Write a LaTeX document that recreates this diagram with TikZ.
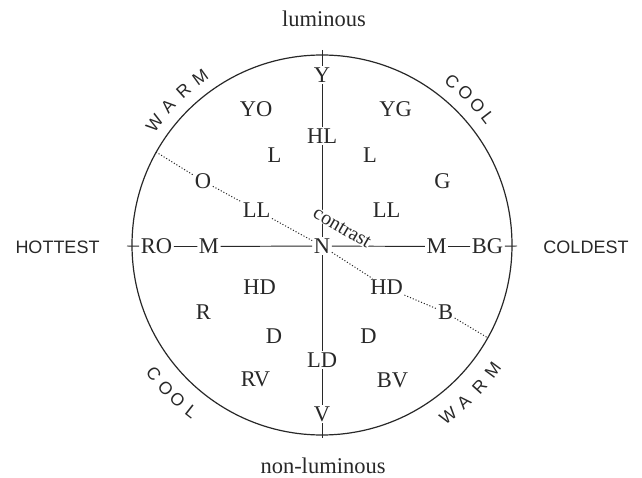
\documentclass[tikz,border=0pt]{standalone}
\usepackage{fontspec}
\setmainfont{Liberation Serif}
\setsansfont{Liberation Sans}
\definecolor{ink}{RGB}{40,40,40}
\begin{document}
\begin{tikzpicture}[x=1pt,y=-1pt,
  lab/.style={font=\fontsize{22.5}{24}\selectfont, inner sep=1.5pt, text=ink},
  axisline/.style={draw=ink, line width=0.95pt},
  dotline/.style={draw=ink, line width=1pt, dash pattern=on 1.1pt off 1.9pt},
  arcl/.style={font=\sffamily\fontsize{17.5}{19}\selectfont, inner sep=0pt, text=ink},
  sidelab/.style={font=\sffamily\fontsize{18}{20}\selectfont, inner sep=0pt, text=ink}]
\useasboundingbox (0,0) rectangle (642,478);
\coordinate (C) at (322,245);
\draw[ink, line width=1.2pt] (C) circle[radius=190pt];

% end points of the axes and contrast line
\coordinate (Lend) at (127,246);
\coordinate (Rend) at (517,246);
\coordinate (Tend) at (322,50);
\coordinate (Bend) at (322,438);
\coordinate (Dl) at (156,152);
\coordinate (Dr) at (488,338);

% labels
\node[lab] (Y)   at (322,75)  {Y};
\node[lab] (HL)  at (322,136) {HL};
\node[lab] (N)   at (322,246) {N};
\node[lab] (LD)  at (322,360) {LD};
\node[lab] (V)   at (322,414) {V};
\node[lab] (YO)  at (256,109.5) {YO};
\node[lab] (YG)  at (395.5,109.5) {YG};
\node[lab] (Ll)  at (274.5,155.5) {L};
\node[lab] (Lr)  at (370,155.5) {L};
\node[lab] (O)   at (203,181) {O};
\node[lab] (G)   at (442.5,181.5) {G};
\node[lab] (LLl) at (256.5,210) {LL};
\node[lab] (LLr) at (386.5,210.5) {LL};
\node[lab] (RO)  at (156.5,246.5) {RO};
\node[lab] (Ml)  at (209,246.5) {M};
\node[lab] (Mr)  at (436.5,246.5) {M};
\node[lab] (BG)  at (487.5,246.5) {BG};
\node[lab] (HDl) at (259.5,287.5) {HD};
\node[lab] (HDr) at (386.5,287.5) {HD};
\node[lab] (R)   at (203.5,312.5) {R};
\node[lab] (B)   at (445.5,312.5) {B};
\node[lab] (Dlft) at (274,336.5) {D};
\node[lab] (Drt) at (368.5,336.5) {D};
\node[lab] (RV)  at (255.5,379) {RV};
\node[lab] (BV)  at (392.5,380) {BV};

\node[lab, anchor=base] (lum) at (324,27) {luminous};
\node[lab, anchor=base] (nonlum) at (323,473) {non-luminous};
\node[sidelab] (hot) at (57.5,247) {HOTTEST};
\node[sidelab] (cold) at (586,247) {COLDEST};

% axes
\draw[axisline] (Lend) -- (RO) -- (Ml) -- (N) -- (Mr) -- (BG) -- (Rend);
\draw[axisline] (Tend) -- (Y) -- (HL) -- (N) -- (LD) -- (V) -- (Bend);

% contrast line
\draw[dotline] (Dl) -- (O) -- (LLl) -- (N) -- (HDr) -- (B) -- (Dr);

\node[lab, font=\fontsize{20}{22}\selectfont, rotate=-30, fill=white, inner sep=0.2pt] (con) at (342,228) {contrast};

% letters along the circle
\begin{scope}[shift={(C)}, x=1pt, y=1pt]
  \node[arcl, rotate=54]  (w1) at (144:207) {W};
  \node[arcl, rotate=48]  (w2) at (138:207) {A};
  \node[arcl, rotate=42]  (w3) at (132:207) {R};
  \node[arcl, rotate=36]  (w4) at (126:207) {M};
  \node[arcl, rotate=-38.5] (c1) at (51.5:209) {C};
  \node[arcl, rotate=-43.3] (c2) at (46.7:209) {O};
  \node[arcl, rotate=-48]   (c3) at (42:209) {O};
  \node[arcl, rotate=-52.5] (c4) at (37.5:209) {L};
  \node[arcl, rotate=307.5] (c5) at (217.5:212) {C};
  \node[arcl, rotate=312.5] (c6) at (222.5:212) {O};
  \node[arcl, rotate=317]   (c7) at (227:212) {O};
  \node[arcl, rotate=322]   (c8) at (232:212) {L};
  \node[arcl, rotate=36.5]  (w5) at (-53.5:212) {W};
  \node[arcl, rotate=42]    (w6) at (-48:212) {A};
  \node[arcl, rotate=48]    (w7) at (-42:212) {R};
  \node[arcl, rotate=53.7]  (w8) at (-36.3:212) {M};
\end{scope}
\end{tikzpicture}
\end{document}
